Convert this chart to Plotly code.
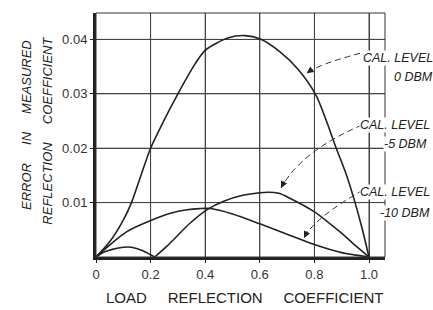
import plotly.graph_objects as go

# ---- data ----
x_ticks = [0, 0.2, 0.4, 0.6, 0.8, 1.0]
x_tick_labels = ["0", "0.2", "0.4", "0.6", "0.8", "1.0"]
y_ticks = [0.01, 0.02, 0.03, 0.04]
y_tick_labels = ["0.01", "0.02", "0.03", "0.04"]

x_0dbm = [0, 0.05, 0.1, 0.13, 0.16, 0.2, 0.25, 0.3, 0.363, 0.4, 0.485, 0.546, 0.6,
          0.674, 0.74, 0.806, 0.88, 0.918, 0.949, 0.975, 1.0]
y_0dbm = [0, 0.0028, 0.0068, 0.0100, 0.0143, 0.0200, 0.0252, 0.0300, 0.0355, 0.0380,
          0.0403, 0.0407, 0.0401, 0.0377, 0.0345, 0.0297, 0.0200, 0.0150, 0.0100, 0.0052, 0]

x_5dbm = [0, 0.03, 0.06, 0.1, 0.13, 0.17, 0.2, 0.215, None,
          0.215, 0.26, 0.3, 0.344, 0.41, 0.47, 0.527, 0.6, 0.63, 0.67, 0.71, 0.8, 0.894, 0.955, 1.0]
y_5dbm = [0, 0.0009, 0.0014, 0.0018, 0.0018, 0.0012, 0.0004, 0, None,
          0, 0.0020, 0.0040, 0.0062, 0.0088, 0.0103, 0.0112, 0.0118, 0.0119, 0.0117, 0.0108,
          0.0083, 0.0046, 0.0019, 0]

x_10dbm = [0, 0.05, 0.1, 0.125, 0.205, 0.27, 0.333, 0.38, 0.42, 0.5, 0.6, 0.7, 0.8, 0.9, 1.0]
y_10dbm = [0, 0.0022, 0.0042, 0.0050, 0.0068, 0.0080, 0.0087, 0.0089, 0.0089, 0.0079,
           0.0061, 0.0042, 0.0023, 0.0008, 0]

labels = ["CAL. LEVEL", "0 DBM", "CAL. LEVEL", "-5 DBM", "CAL. LEVEL", "-10 DBM"]

# ---- styling ----
FONT = "Liberation Sans, Arial, sans-serif"
INK = "#222222"
GRID = "#444444"

fig = go.Figure()
for xs, ys in [(x_0dbm, y_0dbm), (x_5dbm, y_5dbm), (x_10dbm, y_10dbm)]:
    fig.add_trace(go.Scatter(x=xs, y=ys, mode="lines", connectgaps=False,
                             line=dict(color=INK, width=1.6, shape="spline", smoothing=0.8),
                             hoverinfo="skip"))

axis_common = dict(showgrid=True, gridcolor=GRID, gridwidth=1, zeroline=False,
                   showline=True, linewidth=3, linecolor=INK,
                   ticks="outside", ticklen=3, tickcolor=INK,
                   tickfont=dict(family=FONT, size=13, color="#333333"))

fig.update_layout(
    template="none",
    width=433, height=310,
    margin=dict(l=96, r=48, t=13, b=53),
    plot_bgcolor="white", paper_bgcolor="white",
    showlegend=False,
    xaxis=dict(range=[0, 1.0586], tickvals=x_ticks, ticktext=x_tick_labels, **axis_common),
    yaxis=dict(range=[0, 0.04485], tickvals=y_ticks, ticktext=y_tick_labels, **axis_common),
)

# grid lines drawn at the tick values
for v in x_ticks[1:]:
    fig.add_shape(type="line", xref="x", yref="paper", x0=v, x1=v, y0=0, y1=1,
                  line=dict(color=GRID, width=1), layer="below")
for v in y_ticks:
    fig.add_shape(type="line", xref="paper", yref="y", x0=0, x1=1, y0=v, y1=v,
                  line=dict(color=GRID, width=1), layer="below")

# thin top / right border
fig.add_shape(type="rect", xref="paper", yref="paper", x0=0, x1=1, y0=0, y1=1,
              line=dict(color="#333333", width=1), fillcolor="rgba(0,0,0,0)", layer="above")

# dashed leader curves (data coordinates: start, control, tip)
leaders = [
    ((0.967, 0.03745), (0.8106, 0.03533), (0.7718, 0.03377), (7, -5)),
    ((0.9744, 0.02426), (0.7527, 0.01952), (0.6777, 0.01268), (4, -8)),
    ((0.978, 0.01232), (0.797, 0.00706), (0.7619, 0.00349), (4, -8)),
]
for (sx, sy), (cx, cy), (tx, ty), (ax, ay) in leaders:
    fig.add_shape(type="path", xref="x", yref="y",
                  path=f"M {sx},{sy} Q {cx},{cy} {tx},{ty}",
                  line=dict(color="#333333", width=1, dash="6px,4px"),
                  fillcolor="rgba(0,0,0,0)", layer="above")
    fig.add_annotation(x=tx, y=ty, xref="x", yref="y", text="", showarrow=True,
                       ax=ax, ay=ay, arrowhead=2, arrowsize=0.9, arrowwidth=1.5,
                       arrowcolor=INK)

# label texts
label_pos = [(1.17, 0.03658), (1.17, 0.03309), (1.158, 0.02426),
             (1.148, 0.02077), (1.158, 0.01195), (1.158, 0.00809)]
for txt, (px, py) in zip(labels, label_pos):
    fig.add_annotation(x=px, y=py, xref="paper", yref="y", text=txt, showarrow=False,
                       xanchor="right", yanchor="middle", bgcolor="white", borderpad=0,
                       font=dict(family=FONT, size=12.5, color=INK, style="italic"))

# axis titles
nb = "\u00a0"
fig.add_annotation(x=0.5156, y=-0.168, xref="paper", yref="paper",
                   text=f"LOAD{nb*5}REFLECTION{nb*5}COEFFICIENT", showarrow=False,
                   xanchor="center", yanchor="middle",
                   font=dict(family=FONT, size=15, color=INK))
fig.add_annotation(x=-0.2388, y=0.541, xref="paper", yref="paper",
                   text=f"ERROR{nb*5}IN{nb*5}MEASURED", showarrow=False, textangle=-90,
                   xanchor="center", yanchor="middle",
                   font=dict(family=FONT, size=13, color=INK, style="italic"))
fig.add_annotation(x=-0.166, y=0.518, xref="paper", yref="paper",
                   text=f"REFLECTION{nb*5}COEFFICIENT", showarrow=False, textangle=-90,
                   xanchor="center", yanchor="middle",
                   font=dict(family=FONT, size=13, color=INK, style="italic"))

fig.write_html("out.html", config={"displayModeBar": False},
               post_script="document.body.style.margin='0px';document.body.style.padding='0px';")
